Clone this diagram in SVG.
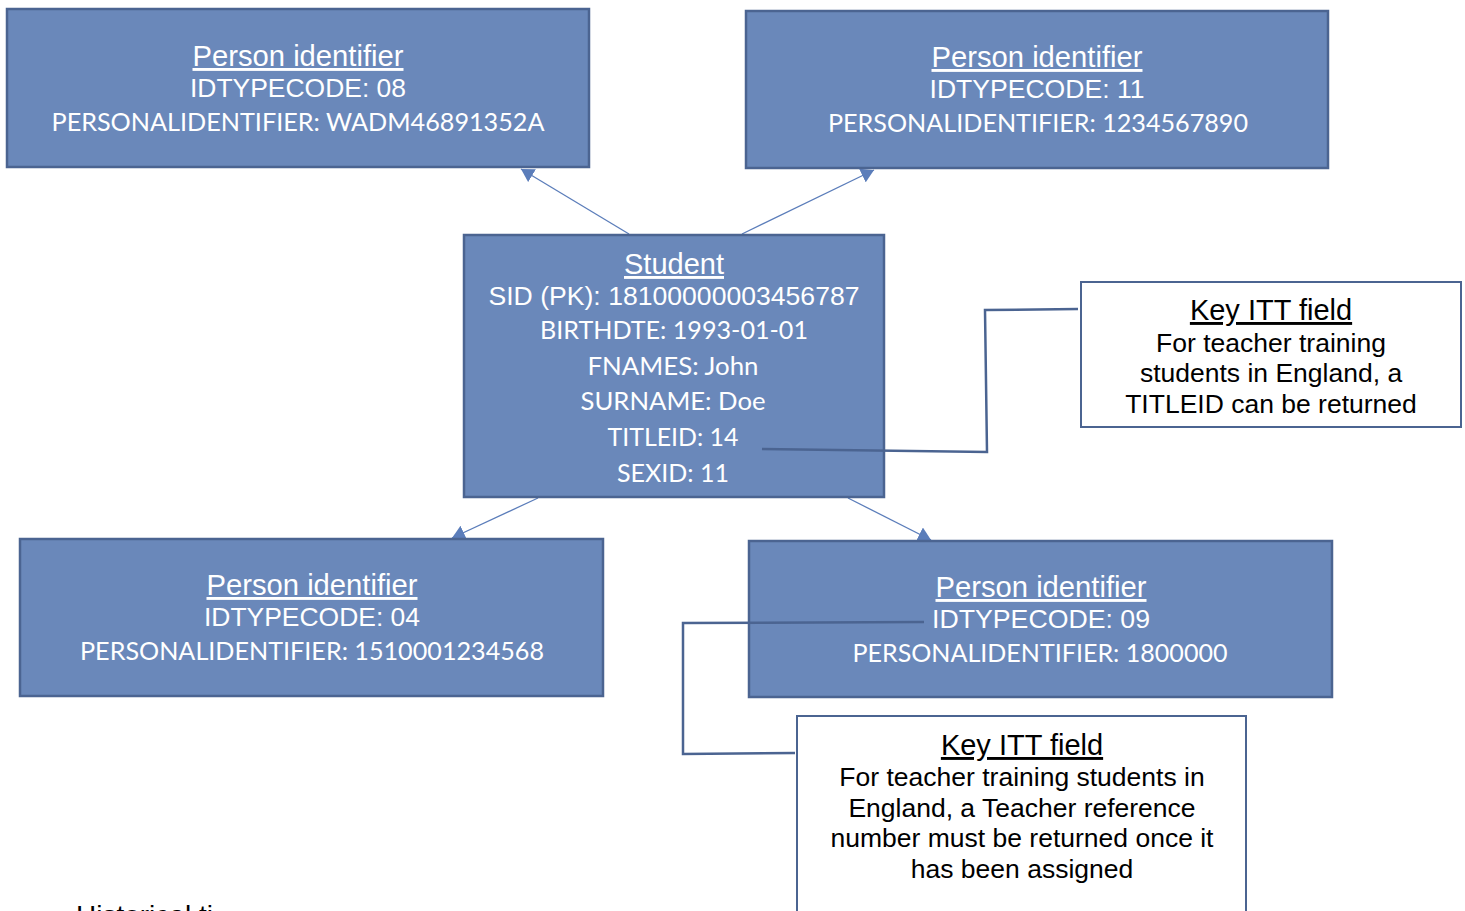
<svg xmlns="http://www.w3.org/2000/svg" width="1465" height="911" viewBox="0 0 1465 911">
<defs>
<style>
.box{fill:#6A88BA;stroke:#4B6491;stroke-width:2.5}
.note{fill:#FFFFFF;stroke:#4B6491;stroke-width:2}
.ttl{font-family:"Liberation Sans",Arial,sans-serif;font-size:29px;fill:#FFFFFF;text-anchor:middle;text-decoration:underline}
.ar{font-family:"Liberation Sans",Arial,sans-serif;font-size:26.5px;fill:#FFFFFF;text-anchor:middle}
.cb{font-family:Lato,"Open Sans",sans-serif;font-size:25px;fill:#FFFFFF;text-anchor:middle}
.nttl{font-family:"Liberation Sans",Arial,sans-serif;font-size:29px;fill:#000000;text-anchor:middle;text-decoration:underline}
.nt{font-family:"Liberation Sans",Arial,sans-serif;font-size:26.5px;fill:#000000;text-anchor:middle}
.arrow{fill:none;stroke:#5B7DBA;stroke-width:1.3}
.link{fill:none;stroke:#4B6491;stroke-width:2.5}
</style>
<marker id="tri" viewBox="0 0 12 14" refX="12" refY="7" markerWidth="13" markerHeight="15" markerUnits="userSpaceOnUse" orient="auto">
<path d="M0,0 L12,7 L0,14 z" fill="#5B7DBA"/>
</marker>
</defs>

<g id="connectors">
<line class="arrow" x1="629" y1="234" x2="521" y2="169" marker-end="url(#tri)"/>
<line class="arrow" x1="742" y1="234" x2="874" y2="170" marker-end="url(#tri)"/>
<line class="arrow" x1="538" y1="498" x2="452" y2="538" marker-end="url(#tri)"/>
<line class="arrow" x1="848" y1="498" x2="931" y2="540" marker-end="url(#tri)"/>
</g>

<g id="pid08">
<rect class="box" x="7" y="9" width="582" height="158"/>
<text class="ttl" x="298" y="66" textLength="211" lengthAdjust="spacingAndGlyphs">Person identifier</text>
<text class="ar" x="298" y="97" textLength="216" lengthAdjust="spacingAndGlyphs">IDTYPECODE: 08</text>
<text class="cb" x="298" y="131" textLength="493" lengthAdjust="spacingAndGlyphs">PERSONALIDENTIFIER: WADM46891352A</text>
</g>

<g id="pid11">
<rect class="box" x="746" y="11" width="582" height="157"/>
<text class="ttl" x="1037" y="67" textLength="211" lengthAdjust="spacingAndGlyphs">Person identifier</text>
<text class="ar" x="1037" y="98" textLength="215" lengthAdjust="spacingAndGlyphs">IDTYPECODE: 11</text>
<text class="cb" x="1038" y="132" textLength="420" lengthAdjust="spacingAndGlyphs">PERSONALIDENTIFIER: 1234567890</text>
</g>

<g id="student">
<rect class="box" x="464" y="235" width="420" height="262"/>
<text class="ttl" x="674" y="274" textLength="100" lengthAdjust="spacingAndGlyphs">Student</text>
<text class="ar" x="674" y="305" textLength="371" lengthAdjust="spacingAndGlyphs">SID (PK): 18100000003456787</text>
<text class="cb" x="674" y="339" textLength="268" lengthAdjust="spacingAndGlyphs">BIRTHDTE: 1993-01-01</text>
<text class="cb" x="673" y="375" textLength="171" lengthAdjust="spacingAndGlyphs">FNAMES: John</text>
<text class="cb" x="673" y="410" textLength="185" lengthAdjust="spacingAndGlyphs">SURNAME: Doe</text>
<text class="cb" x="673" y="446" textLength="131" lengthAdjust="spacingAndGlyphs">TITLEID: 14</text>
<text class="cb" x="673" y="482" textLength="112" lengthAdjust="spacingAndGlyphs">SEXID: 11</text>
</g>

<g id="pid04">
<rect class="box" x="20" y="539" width="583" height="157"/>
<text class="ttl" x="312" y="595" textLength="211" lengthAdjust="spacingAndGlyphs">Person identifier</text>
<text class="ar" x="312" y="626" textLength="216" lengthAdjust="spacingAndGlyphs">IDTYPECODE: 04</text>
<text class="cb" x="312" y="660" textLength="464" lengthAdjust="spacingAndGlyphs">PERSONALIDENTIFIER: 1510001234568</text>
</g>

<g id="pid09">
<rect class="box" x="749" y="541" width="583" height="156"/>
<text class="ttl" x="1041" y="597" textLength="211" lengthAdjust="spacingAndGlyphs">Person identifier</text>
<text class="ar" x="1041" y="628" textLength="218" lengthAdjust="spacingAndGlyphs">IDTYPECODE: 09</text>
<text class="cb" x="1040" y="662" textLength="375" lengthAdjust="spacingAndGlyphs">PERSONALIDENTIFIER: 1800000</text>
</g>

<g id="note-titleid">
<rect class="note" x="1081" y="282" width="380" height="145"/>
<text class="nttl" x="1271" y="320">Key ITT field</text>
<text class="nt" x="1271" y="352">For teacher training</text>
<text class="nt" x="1271" y="382">students in England, a</text>
<text class="nt" x="1271" y="413">TITLEID can be returned</text>
</g>

<g id="note-trn">
<rect class="note" x="797" y="716" width="449" height="210"/>
<text class="nttl" x="1022" y="755">Key ITT field</text>
<text class="nt" x="1022" y="786">For teacher training students in</text>
<text class="nt" x="1022" y="817">England, a Teacher reference</text>
<text class="nt" x="1022" y="847">number must be returned once it</text>
<text class="nt" x="1022" y="878">has been assigned</text>
</g>

<g id="note-links">
<polyline class="link" points="762,449 987,452 985,310 1078,309"/>
<polyline class="link" points="924,622 683,623 683,754 795,753"/>
</g>

<text x="76" y="925" font-family="Liberation Sans, Arial, sans-serif" font-size="28" fill="#000000">Historical ti</text>
</svg>
